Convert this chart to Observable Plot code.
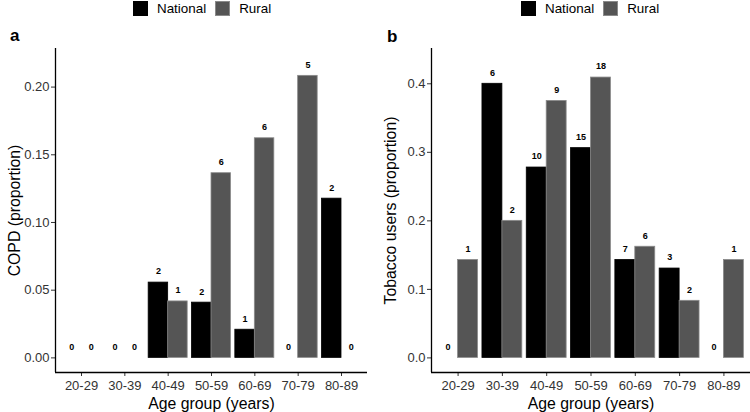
<!DOCTYPE html>
<html>
<head>
<meta charset="utf-8">
<script src="https://cdn.jsdelivr.net/npm/d3@7"></script>
<script src="https://cdn.jsdelivr.net/npm/@observablehq/plot@0.6"></script>
<style>
  html, body { margin: 0; padding: 0; background: #fff; }
  body { font-family: "Liberation Sans", Arial, sans-serif; }
  #wrap { position: relative; width: 750px; height: 412px; overflow: hidden; }
  .legend { position: absolute; top: 0; height: 16px; display: flex; align-items: center; font-size: 13.4px; color: #000; z-index: 2; }
  .key { width: 15px; height: 15px; display: inline-block; box-sizing: border-box; }
  .lab { display: inline-block; }
  .panel { position: absolute; top: 16px; z-index: 1; }
  .letter { position: absolute; font-weight: bold; font-size: 17px; color: #000; z-index: 3; line-height: 1; }
</style>
</head>
<body>
<div id="wrap">
  <div class="legend" id="legA" style="left:133px;"></div>
  <div class="legend" id="legB" style="left:521px;"></div>
  <div class="panel" id="pa" style="left:0px;"></div>
  <div class="panel" id="pb" style="left:375px;"></div>
  <div class="letter" style="left:10px; top:27px;">a</div>
  <div class="letter" style="left:387px; top:28px;">b</div>
</div>
<script>
const ages = ["20-29", "30-39", "40-49", "50-59", "60-69", "70-79", "80-89"];
const seriesNames = ["National", "Rural"];
const seriesColors = ["#000000", "#555555"];

// Panel a: COPD proportion and counts
const copdNational = [0, 0, 0.0556, 0.0408, 0.0208, 0, 0.1176];
const copdRural = [0, 0, 0.0417, 0.1364, 0.1622, 0.2083, 0];
const copdNationalN = [0, 0, 2, 2, 1, 0, 2];
const copdRuralN = [0, 0, 1, 6, 6, 5, 0];
const copdTicks = [0, 0.05, 0.10, 0.15, 0.20];

// Panel b: Tobacco users proportion and counts
const tobNational = [0, 0.4, 0.2778, 0.3061, 0.1429, 0.1304, 0];
const tobRural = [0.1429, 0.2, 0.375, 0.4091, 0.1622, 0.0833, 0.1429];
const tobNationalN = [0, 6, 10, 15, 7, 3, 0];
const tobRuralN = [1, 2, 9, 18, 6, 2, 1];
const tobTicks = [0, 0.1, 0.2, 0.3, 0.4];

function rowsFrom(nat, rur, natN, rurN) {
  const rows = [];
  ages.forEach((a, i) => {
    [[nat, natN], [rur, rurN]].forEach(([v, n], s) => {
      const x1 = (i + 1) + (s === 0 ? -0.45 : 0);
      rows.push({age: a, series: seriesNames[s], value: v[i], n: n[i], x1, x2: x1 + 0.45, xm: x1 + 0.225});
    });
  });
  return rows;
}

function legend(el) {
  seriesNames.forEach((s, i) => {
    const k = document.createElement("span");
    k.className = "key";
    k.style.background = seriesColors[i];
    if (i === 1) k.style.border = "1px solid #8a8a8a";
    k.style.marginRight = "9px";
    const t = document.createElement("span");
    t.className = "lab";
    t.textContent = s;
    t.style.marginRight = i === 0 ? "9px" : "0";
    el.appendChild(k); el.appendChild(t);
  });
}

function panel(rows, yDomain, yTicks, yFormat, yTitle, marginLeft, marginRight) {
  const xDomain = [0.4, 7.6];
  return Plot.plot({
    width: 375,
    height: 396,
    marginTop: 32,
    marginBottom: 40,
    marginLeft,
    marginRight,
    style: {fontFamily: "'Liberation Sans', Arial, sans-serif", fontSize: "13px", color: "#333", background: "transparent"},
    x: {type: "linear", domain: xDomain},
    y: {domain: yDomain},
    color: {domain: seriesNames, range: seriesColors},
    marks: [
      Plot.rect(rows, {
        x1: "x1", x2: "x2", y1: d => 0, y2: "value",
        fill: "series",
        stroke: d => d.series === "Rural" ? "#8a8a8a" : "#000",
        strokeWidth: 0.8
      }),
      Plot.text(rows, {
        x: "xm", y: "value", text: d => String(d.n), dy: -11,
        fontWeight: "bold", fontSize: 9, fill: "#000"
      }),
      Plot.axisY({ticks: yTicks, tickFormat: yFormat, tickSize: 4, tickPadding: 2, label: null, fontSize: 13}),
      Plot.axisX({ticks: [1, 2, 3, 4, 5, 6, 7], tickFormat: i => ages[i - 1], tickSize: 4, tickPadding: 4, label: null, fontSize: 13}),
      Plot.ruleY([yDomain[0]], {stroke: "#000", strokeWidth: 1.3}),
      Plot.ruleX([xDomain[0]], {stroke: "#000", strokeWidth: 1.3}),
      Plot.text(["Age group (years)"], {text: d => d, frameAnchor: "bottom", textAnchor: "middle", lineAnchor: "middle", dy: 31, fontSize: 15.8, fill: "#000"}),
      Plot.text([yTitle], {text: d => d, frameAnchor: "left", textAnchor: "middle", rotate: -90, dx: -41, fontSize: 15.8, fill: "#000"})
    ]
  });
}

legend(document.getElementById("legA"));
legend(document.getElementById("legB"));

document.getElementById("pa").appendChild(
  panel(rowsFrom(copdNational, copdRural, copdNationalN, copdRuralN),
        [-0.0108, 0.2285], copdTicks, d3.format(".2f"), "COPD (proportion)", 55, 8)
);
document.getElementById("pb").appendChild(
  panel(rowsFrom(tobNational, tobRural, tobNationalN, tobRuralN),
        [-0.0213, 0.4515], tobTicks, d3.format(".1f"), "Tobacco users (proportion)", 56, 0)
);
</script>
</body>
</html>
